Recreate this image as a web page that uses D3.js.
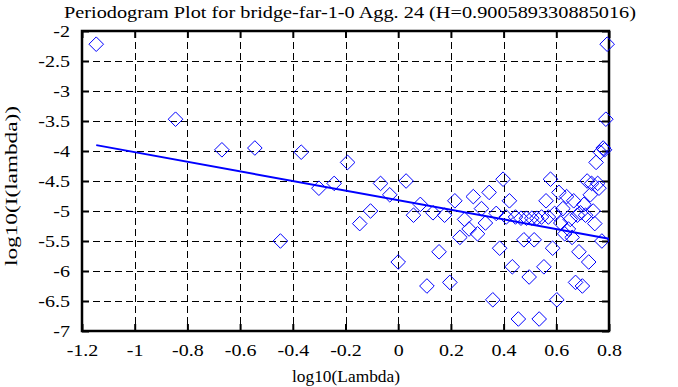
<!DOCTYPE html>
<html>
<head>
<meta charset="utf-8">
<script src="https://cdn.jsdelivr.net/npm/d3@7"></script>
<style>
  body { margin: 0; background: #fff; }
  text { font-family: "Liberation Serif", "Times New Roman", serif; fill: #000; }
</style>
</head>
<body>
<div id="chart"></div>
<script>
// log10(lambda) of each periodogram point
var logLambda = [
  -1.146, -0.845, -0.669, -0.544, -0.447, -0.368, -0.301, -0.243, -0.192, -0.146,
  -0.105, -0.067, -0.032, 0.000, 0.030, 0.058, 0.084, 0.109, 0.132, 0.155,
  0.176, 0.196, 0.215, 0.234, 0.252, 0.269, 0.285, 0.301, 0.316, 0.331,
  0.345, 0.359, 0.372, 0.385, 0.398, 0.410, 0.422, 0.433, 0.445, 0.456,
  0.466, 0.477, 0.487, 0.497, 0.507, 0.516, 0.526, 0.535, 0.544, 0.553,
  0.561, 0.570, 0.578, 0.586, 0.594, 0.602, 0.610, 0.617, 0.625, 0.632,
  0.639, 0.646, 0.653, 0.660, 0.666, 0.673, 0.680, 0.686, 0.692, 0.699,
  0.705, 0.711, 0.717, 0.723, 0.729, 0.734, 0.740, 0.746, 0.751, 0.757,
  0.762, 0.767, 0.773, 0.778, 0.783, 0.788, 0.793
];

// log10(I(lambda))
var logPower = [
  -2.22, -3.47, -3.98, -3.95, -5.50, -4.02, -4.62, -4.54, -4.19, -5.21,
  -5.00, -4.54, -4.73, -5.85, -4.50, -5.07, -4.89, -6.25, -5.03, -5.68,
  -5.07, -6.19, -4.83, -5.44, -5.14, -5.30, -4.76, -5.38, -4.96, -5.20,
  -4.69, -6.48, -5.04, -5.62, -4.47, -5.10, -4.83, -5.93, -5.10, -6.80,
  -5.12, -5.48, -5.12, -6.10, -5.12, -5.48, -5.12, -6.80, -5.10, -5.93,
  -4.83, -5.10, -4.47, -5.62, -5.04, -6.48, -4.69, -5.20, -4.96, -5.38,
  -4.76, -5.30, -5.14, -5.44, -4.83, -6.19, -5.07, -5.68, -5.03, -6.25,
  -4.89, -5.07, -4.50, -5.85, -4.73, -4.54, -5.00, -5.21, -4.19, -4.54,
  -4.62, -4.02, -5.50, -3.95, -3.98, -3.47, -2.22
];

var xTicks = [-1.2, -1, -0.8, -0.6, -0.4, -0.2, 0, 0.2, 0.4, 0.6, 0.8];
var yTicks = [-2, -2.5, -3, -3.5, -4, -4.5, -5, -5.5, -6, -6.5, -7];

// fitted line: slope = 1 - 2H
var fitSlope = -0.801178;
var fitIntercept = -4.82;

var titleText = "Periodogram Plot for bridge-far-1-0 Agg. 24 (H=0.900589330885016)";

var attrs = {
  width: 678,
  height: 387,
  marginLeft: 82,
  marginRight: 69,
  marginTop: 31,
  marginBottom: 56,
  fontSize: 16,
  stretch: 1.25,   // gnuplot's font is wider than Times
  tickLen: 7,
  pointColor: '#0000ff',
  diamond: 7.3
};

var calc = {};
calc.chartWidth = attrs.width - attrs.marginLeft - attrs.marginRight;
calc.chartHeight = attrs.height - attrs.marginTop - attrs.marginBottom;

var svg = d3.select('#chart').append('svg')
  .attr('width', attrs.width)
  .attr('height', attrs.height);

var chart = svg.append('g')
  .attr('transform', 'translate(' + attrs.marginLeft + ',' + attrs.marginTop + ')');

var x = d3.scaleLinear().domain([-1.2, 0.8]).range([0, calc.chartWidth]);
var y = d3.scaleLinear().domain([-7, -2]).range([calc.chartHeight, 0]);

// dashed grid
chart.append('g').selectAll('line.vgrid')
  .data(xTicks.slice(1, -1))
  .enter().append('line')
  .attr('class', 'vgrid')
  .attr('x1', d => Math.round(x(d)) + 0.5).attr('x2', d => Math.round(x(d)) + 0.5)
  .attr('y1', 0).attr('y2', calc.chartHeight)
  .attr('stroke', '#000').attr('stroke-width', 1).attr('stroke-dasharray', '7,4');

chart.append('g').selectAll('line.hgrid')
  .data(yTicks.slice(1, -1))
  .enter().append('line')
  .attr('class', 'hgrid')
  .attr('y1', d => Math.round(y(d)) + 0.5).attr('y2', d => Math.round(y(d)) + 0.5)
  .attr('x1', 0).attr('x2', calc.chartWidth)
  .attr('stroke', '#000').attr('stroke-width', 1).attr('stroke-dasharray', '7,4');

// axes with inward ticks, labels only bottom / left
var xAxis = d3.axisBottom(x).tickValues(xTicks).tickSize(-attrs.tickLen).tickPadding(14)
  .tickFormat(d => String(d));
var yAxis = d3.axisLeft(y).tickValues(yTicks).tickSize(-attrs.tickLen).tickPadding(12 / attrs.stretch)
  .tickFormat(d => String(d));

var gx = chart.append('g').attr('transform', 'translate(0,' + calc.chartHeight + ')').call(xAxis);
var gy = chart.append('g').call(yAxis);
var gxTop = chart.append('g').call(d3.axisTop(x).tickValues(xTicks).tickSize(-attrs.tickLen).tickFormat(''));
var gyRight = chart.append('g').attr('transform', 'translate(' + calc.chartWidth + ',0)')
  .call(d3.axisRight(y).tickValues(yTicks).tickSize(-attrs.tickLen).tickFormat(''));

[gx, gy, gxTop, gyRight].forEach(function (g) {
  g.select('.domain').remove();
  g.selectAll('.tick line').attr('stroke', '#000').attr('stroke-width', 2);
  g.selectAll('.tick text')
    .attr('font-size', attrs.fontSize)
    .attr('fill', '#000')
    .attr('transform', 'scale(' + attrs.stretch + ',1)');
});

// border
chart.append('rect')
  .attr('x', 0).attr('y', 0)
  .attr('width', calc.chartWidth).attr('height', calc.chartHeight)
  .attr('fill', 'none').attr('stroke', '#000').attr('stroke-width', 2.5);

// points
var points = logLambda.map((d, i) => ({ x: d, y: logPower[i] }));
var s = attrs.diamond;
chart.append('g').selectAll('path.pt')
  .data(points)
  .enter().append('path')
  .attr('class', 'pt')
  .attr('d', d => {
    var cx = x(d.x), cy = y(d.y);
    return 'M' + (cx - s) + ',' + cy + 'L' + cx + ',' + (cy - s) + 'L' + (cx + s) + ',' + cy + 'L' + cx + ',' + (cy + s) + 'Z';
  })
  .attr('fill', 'none')
  .attr('stroke', attrs.pointColor)
  .attr('stroke-width', 1);

// fit line
var xExt = d3.extent(logLambda);
chart.append('line')
  .attr('x1', x(xExt[0])).attr('y1', y(fitIntercept + fitSlope * xExt[0]))
  .attr('x2', x(0.8)).attr('y2', y(fitIntercept + fitSlope * 0.8))
  .attr('stroke', attrs.pointColor).attr('stroke-width', 2);

// title and axis labels
svg.append('text')
  .attr('x', 350).attr('y', 18)
  .attr('text-anchor', 'middle')
  .attr('font-size', 17)
  .attr('textLength', 572)
  .attr('lengthAdjust', 'spacingAndGlyphs')
  .text(titleText);

svg.append('text')
  .attr('x', 346).attr('y', 382)
  .attr('text-anchor', 'middle')
  .attr('font-size', attrs.fontSize)
  .attr('textLength', 108)
  .attr('lengthAdjust', 'spacingAndGlyphs')
  .text('log10(Lambda)');

svg.append('text')
  .attr('transform', 'translate(17,' + 186 + ') rotate(-90)')
  .attr('text-anchor', 'middle')
  .attr('font-size', attrs.fontSize)
  .attr('textLength', 160)
  .attr('lengthAdjust', 'spacingAndGlyphs')
  .text('log10(I(lambda))');
</script>
</body>
</html>
